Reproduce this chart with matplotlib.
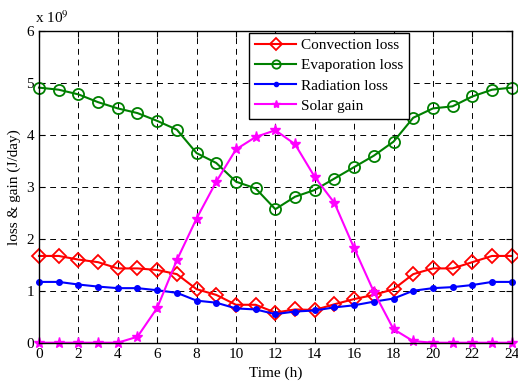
import matplotlib
matplotlib.use("Agg")
import matplotlib.pyplot as plt
import numpy as np

plt.rcParams['font.family'] = ['Liberation Serif', 'DejaVu Serif']
plt.rcParams['mathtext.fontset'] = 'stix'

hours = list(range(25))
convection = [1.67, 1.67, 1.60, 1.55, 1.43, 1.43, 1.40, 1.32, 1.03, 0.92, 0.73, 0.73, 0.58,
              0.64, 0.63, 0.74, 0.84, 0.92, 1.03, 1.32, 1.43, 1.43, 1.55, 1.67, 1.67]
evaporation = [4.91, 4.87, 4.78, 4.63, 4.51, 4.42, 4.27, 4.10, 3.65, 3.46, 3.10, 2.97, 2.57,
               2.81, 2.94, 3.16, 3.38, 3.60, 3.87, 4.33, 4.51, 4.55, 4.74, 4.87, 4.91]
radiation = [1.17, 1.17, 1.12, 1.08, 1.05, 1.05, 1.01, 0.96, 0.81, 0.77, 0.66, 0.64, 0.55,
             0.60, 0.62, 0.68, 0.72, 0.79, 0.85, 1.00, 1.05, 1.07, 1.11, 1.17, 1.17]
solar = [0, 0, 0, 0, 0, 0.115, 0.67, 1.59, 2.39, 3.10, 3.72, 3.96, 4.09,
         3.82, 3.19, 2.69, 1.82, 0.98, 0.26, 0.03, 0, 0, 0, 0, 0]

fig = plt.figure(figsize=(5.18, 3.86), dpi=100)
ax = fig.add_axes([39/518, 1 - 342.7/386, 472.7/518, 311.7/386])

common = dict(lw=1.5, clip_on=False, zorder=3)
ax.plot(hours, convection, color='red', marker='D', ms=7.5, mfc='none', mew=1.3,
        label='Convection loss', **common)
ax.plot(hours, evaporation, color='green', marker='o', ms=8, mfc='none', mew=1.3,
        label='Evaporation loss', **common)
ax.plot(hours, radiation, color='blue', marker='.', ms=8,
        label='Radiation loss', **common)
ax.plot(hours, solar, color='magenta', marker='*', ms=8,
        label='Solar gain', **common)

ax.set_xlim(0, 24)
ax.set_ylim(0, 6)
ax.set_xticks(range(0, 25, 2))
ax.set_yticks(range(0, 7))
ax.grid(True, color='black', ls=(0, (6, 5)), lw=0.7)
ax.set_axisbelow(True)
ax.tick_params(direction='in', top=True, right=True, labelsize=11, length=4)
for s in ax.spines.values():
    s.set_linewidth(1.0)
    s.set_zorder(4)

ax.set_xlabel('Time (h)', fontsize=11)
ax.set_ylabel('loss & gain (J/day)', fontsize=11)
ax.text(-0.008, 1.015, r'x 10$^{9}$', transform=ax.transAxes, fontsize=11, va='bottom', ha='left')

leg = ax.legend(loc='upper left', bbox_to_anchor=(0.444, 0.995), borderaxespad=0,
                fontsize=11, fancybox=False, edgecolor='black', framealpha=1,
                handlelength=2.7, handletextpad=0.3, labelspacing=0.42, borderpad=0.4,
                markerscale=0.75)
leg.get_frame().set_linewidth(1.0)
leg.set_zorder(5)

fig.savefig('out.png', dpi=100)
